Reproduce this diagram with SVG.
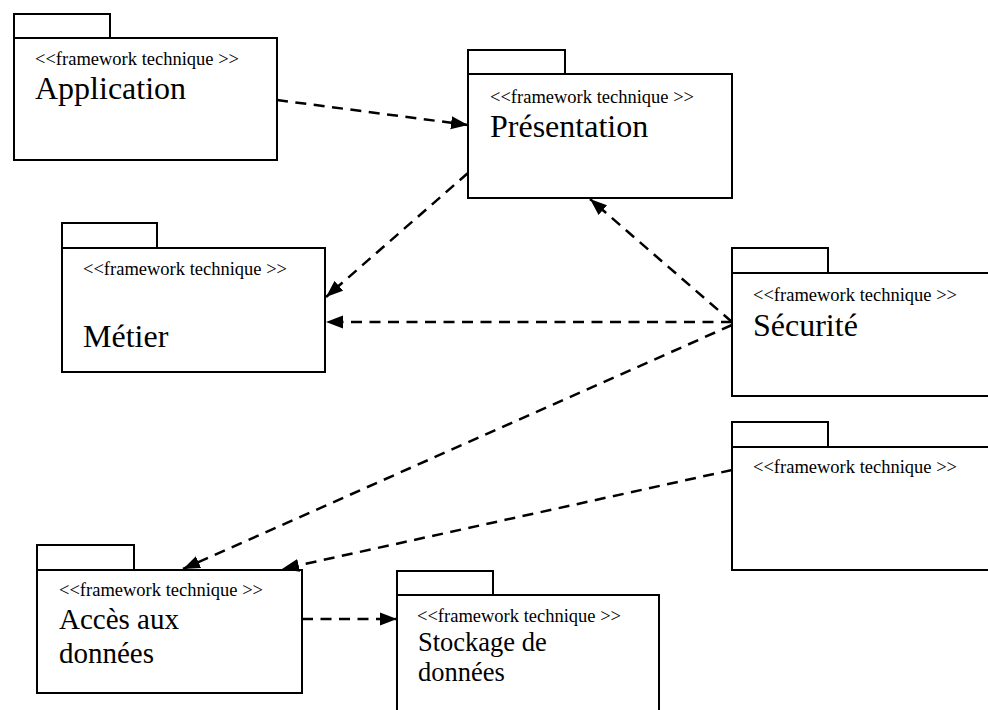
<svg xmlns="http://www.w3.org/2000/svg" width="988" height="710" viewBox="0 0 988 710">
<style>
.box{fill:#fff;stroke:#000;stroke-width:2}
.st{font-family:"Liberation Serif","Times New Roman",serif;font-size:18.5px;fill:#000}
.tl{font-family:"Liberation Serif","Times New Roman",serif;font-size:32px;fill:#000}
.con{fill:none;stroke:#000;stroke-width:2.5;stroke-dasharray:11 7.5;marker-end:url(#arr)}
</style>
<defs>
<marker id="arr" markerUnits="userSpaceOnUse" markerWidth="18" markerHeight="14" refX="17" refY="7" orient="auto">
<path d="M0,0.5 L17,7 L0,13.5 z" fill="#000"/>
</marker>
</defs>
<rect width="988" height="710" fill="#fff"/>
<g id="application">
<rect class="box" x="14" y="14" width="96" height="24"/>
<rect class="box" x="14" y="38" width="263" height="122"/>
<text class="st" x="35" y="65">&lt;&lt;framework technique &gt;&gt;</text>
<text class="tl" x="35" y="99">Application</text>
</g>
<g id="presentation">
<rect class="box" x="468" y="50" width="97" height="24"/>
<rect class="box" x="468" y="74" width="264" height="124"/>
<text class="st" x="490" y="103">&lt;&lt;framework technique &gt;&gt;</text>
<text class="tl" x="490" y="137">Présentation</text>
</g>
<g id="metier">
<rect class="box" x="62" y="223" width="95" height="25"/>
<rect class="box" x="62" y="248" width="263" height="124"/>
<text class="st" x="83" y="275">&lt;&lt;framework technique &gt;&gt;</text>
<text class="tl" x="83" y="347">Métier</text>
</g>
<g id="securite">
<rect class="box" x="732" y="248" width="96" height="25"/>
<rect class="box" x="732" y="273" width="280" height="123"/>
<text class="st" x="753" y="301">&lt;&lt;framework technique &gt;&gt;</text>
<text class="tl" x="753" y="336">Sécurité</text>
</g>
<g id="framework4">
<rect class="box" x="732" y="422" width="96" height="25"/>
<rect class="box" x="732" y="447" width="280" height="123"/>
<text class="st" x="753" y="473">&lt;&lt;framework technique &gt;&gt;</text>
</g>
<g id="acces">
<rect class="box" x="37" y="545" width="97" height="25"/>
<rect class="box" x="37" y="570" width="265" height="123"/>
<text class="st" x="59" y="596">&lt;&lt;framework technique &gt;&gt;</text>
<text class="tl" x="59" y="629" style="font-size:29px">Accès aux</text>
<text class="tl" x="59" y="663" style="font-size:29px">données</text>
</g>
<g id="stockage">
<rect class="box" x="397" y="571" width="96" height="24"/>
<rect class="box" x="397" y="595" width="262" height="130"/>
<text class="st" x="417" y="622">&lt;&lt;framework technique &gt;&gt;</text>
<text class="tl" x="418" y="651" style="font-size:26.5px">Stockage de</text>
<text class="tl" x="418" y="681" style="font-size:26.5px">données</text>
</g>
<g id="connectors">
<line class="con" x1="277" y1="100" x2="468" y2="125"/>
<line class="con" x1="468" y1="173" x2="326" y2="297"/>
<line class="con" x1="732" y1="322" x2="590" y2="199"/>
<line class="con" x1="732" y1="322" x2="326" y2="322"/>
<line class="con" x1="732" y1="325" x2="183" y2="569"/>
<line class="con" x1="732" y1="470" x2="282" y2="569"/>
<line class="con" x1="302" y1="619" x2="397" y2="619"/>
</g>
</svg>
